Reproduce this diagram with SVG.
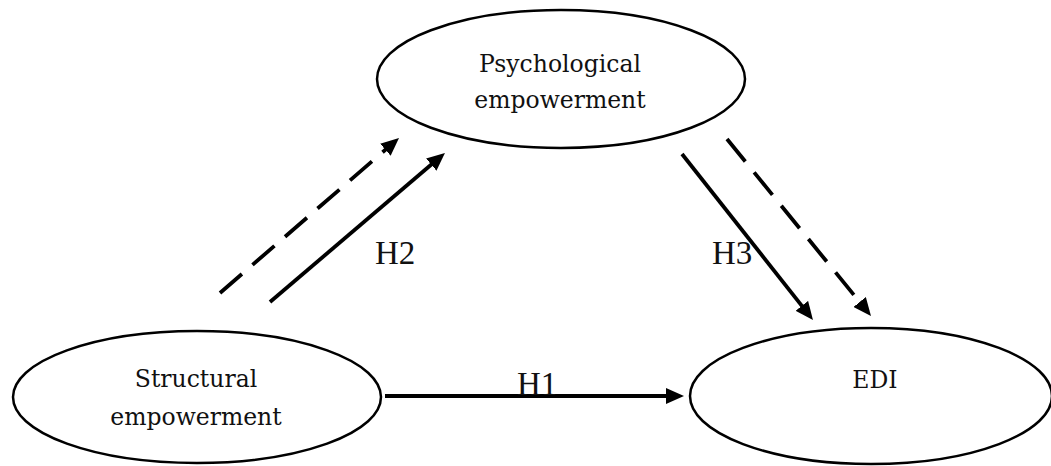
<svg xmlns="http://www.w3.org/2000/svg" width="1051" height="466" viewBox="0 0 1051 466">
<style>
.node ellipse{fill:#fff;stroke:#000;stroke-width:2.5}
.lbl{font-family:"DejaVu Serif","Liberation Serif",serif;font-size:23.5px;fill:#111;text-anchor:middle}
.h{font-family:"Liberation Serif",serif;font-size:33px;fill:#111}
.conn line{stroke:#000;stroke-width:3.8;fill:none}
.dash{stroke-dasharray:29 14}
</style>
<defs>
<marker id="ah" markerUnits="userSpaceOnUse" markerWidth="18" markerHeight="16" refX="9" refY="8" orient="auto">
<path d="M0,0 L18,8 L0,16 z" fill="#000"/>
</marker>
</defs>
<rect width="1051" height="466" fill="#fff"/>
<g id="psych" class="node">
<ellipse cx="561" cy="79" rx="184" ry="69"/>
<text class="lbl" x="560" y="72">Psychological</text>
<text class="lbl" x="560" y="108">empowerment</text>
</g>
<g id="struct" class="node">
<ellipse cx="197" cy="397" rx="184" ry="66"/>
<text class="lbl" x="196" y="387">Structural</text>
<text class="lbl" x="196" y="425">empowerment</text>
</g>
<g id="edi" class="node">
<ellipse cx="871" cy="396" rx="181" ry="68"/>
<text class="lbl" x="875" y="388">EDI</text>
</g>
<g id="connectors" class="conn">
<line x1="220" y1="293" x2="392.2" y2="143.9" class="dash" marker-end="url(#ah)"/>
<line x1="270" y1="302" x2="438.1" y2="158.8" marker-end="url(#ah)"/>
<line x1="682" y1="154" x2="807.4" y2="312.9" marker-end="url(#ah)"/>
<line x1="727" y1="139" x2="865.3" y2="309" class="dash" marker-end="url(#ah)"/>
<line x1="385" y1="396" x2="675" y2="396" marker-end="url(#ah)"/>
</g>
<g id="labels">
<text class="h" x="375" y="264">H2</text>
<text class="h" x="712" y="264">H3</text>
<text class="h" x="517" y="395">H1</text>
</g>
</svg>
